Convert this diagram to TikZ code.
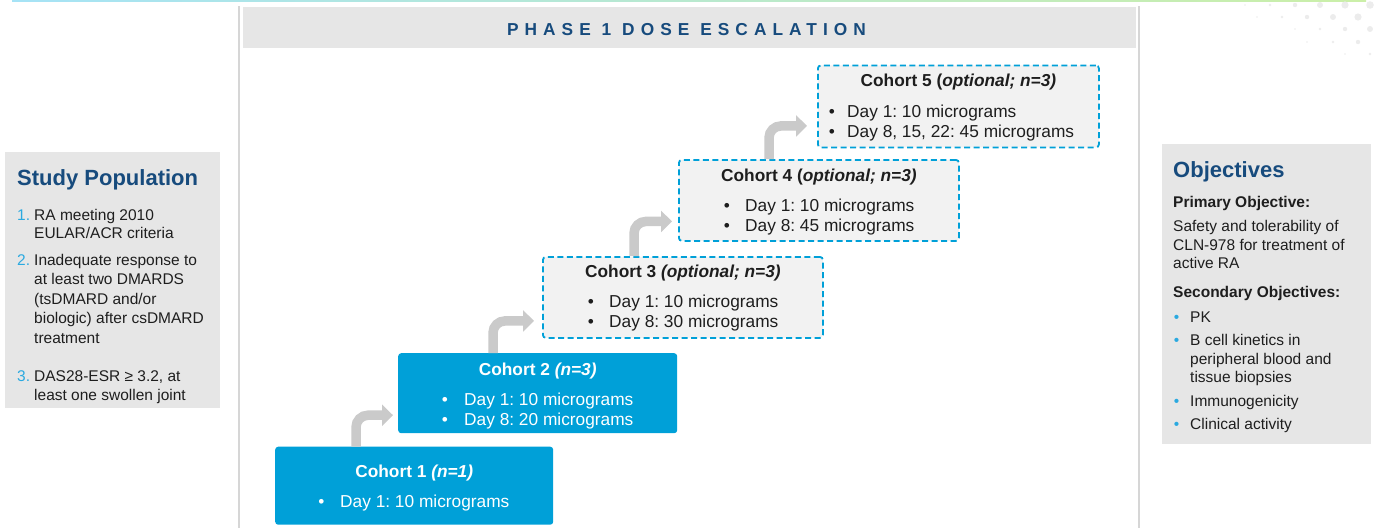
\documentclass[tikz,border=0pt]{standalone}
\usepackage{fontspec}
\setmainfont{Liberation Sans}
\newfontfamily\hdrfont{Liberation Sans}[LetterSpace=35]
\usetikzlibrary{arrows.meta}
\definecolor{cblue}{HTML}{00A0D8}
\definecolor{dblue}{HTML}{174B7D}
\definecolor{nblue}{HTML}{2AA9E0}
\definecolor{panel}{HTML}{E6E6E6}
\definecolor{lightfill}{HTML}{F2F2F2}
\definecolor{agray}{HTML}{CACACA}
\definecolor{vline}{HTML}{D6D6D6}
\definecolor{ink}{HTML}{1E1E1E}
\definecolor{dotc}{HTML}{ECECEC}
\definecolor{topA}{HTML}{A6E3F6}
\definecolor{topB}{HTML}{CBEFA8}
\frenchspacing
\begin{document}
\begin{tikzpicture}[x=1pt,y=-1pt,
  panelbox/.style={fill=panel, draw=none, inner sep=0pt, anchor=north west},
  solidc/.style={fill=cblue, draw=none, rounded corners=3pt, inner sep=0pt, anchor=north west},
  dashc/.style={fill=lightfill, draw=cblue, line width=1.8pt, dash pattern=on 6pt off 3.5pt, rounded corners=3pt, inner sep=0pt, anchor=north west},
  body/.style={anchor=base west, inner sep=0pt, text=ink, font=\fontsize{15.5}{19}\selectfont},
  num/.style={anchor=base west, inner sep=0pt, text=nblue, font=\fontsize{15.5}{19}\selectfont},
  bdot/.style={anchor=base, inner sep=0pt, text=nblue, font=\fontsize{15.5}{19}\selectfont},
  ptitle/.style={anchor=base west, inner sep=0pt, text=dblue, font=\fontsize{22}{24}\selectfont\bfseries},
  subt/.style={anchor=base west, inner sep=0pt, text=ink, font=\fontsize{15.5}{19}\selectfont\bfseries},
  ctitle/.style={anchor=base, inner sep=0pt, font=\fontsize{17.3}{20}\selectfont\bfseries},
  cline/.style={anchor=base west, inner sep=0pt, font=\fontsize{17.3}{20}\selectfont},
  cbul/.style={anchor=base, inner sep=0pt, font=\fontsize{17.3}{20}\selectfont},
  garrow/.style={draw=agray, line width=9.5pt, rounded corners=12pt, -{Triangle[length=11pt,width=21pt]}}
]
\useasboundingbox (0,0) rectangle (1377,528);
% top line and decoration
\shade[left color=topA, right color=topB] (12,0) rectangle (1366,1.6);
\foreach \x/\y/\r in {1245/5/0.8, 1270/5/1.3, 1295/5/2.2, 1320/5/3, 1345/5/3.6, 1370/5/3.8,
  1257/17/0.8, 1282/17/1.3, 1307/17/2.2, 1333/17/3, 1358/17/3.6,
  1295/29/0.8, 1320/29/1.3, 1345/29/2.2, 1370/29/3,
  1307/42/0.8, 1333/42/1.3, 1358/42/2.2,
  1345/54/0.8, 1370/54/1.3}
  \fill[dotc] (\x,\y) circle[radius=\r pt];
% vertical separators
\draw[vline, line width=1.4pt] (239,6) -- (239,528);
\draw[vline, line width=1.4pt] (1139,6) -- (1139,528);
% header
\node[panelbox, minimum width=893pt, minimum height=41pt] (hdr) at (243,7) {};
\node[anchor=base, inner sep=0pt, text=dblue, font=\fontsize{17.3}{20}\hdrfont\bfseries] (hdrt) at (686.5,35.7) {PHASE 1 DOSE ESCALATION};
% study population
\node[panelbox, minimum width=215pt, minimum height=256pt] (sp) at (5,152) {};
\node[ptitle] (spt) at (17,185) {Study Population};
\node[num] (n1) at (17,220) {1.};
\node[num] (n2) at (17,265) {2.};
\node[num] (n3) at (17,381) {3.};
\node[body] (spl1) at (34,220) {RA meeting 2010};
\node[body] (spl2) at (34,238.5) {EULAR/ACR criteria};
\node[body] (spl3) at (34,265) {Inadequate response to};
\node[body] (spl4) at (34,284.5) {at least two DMARDS};
\node[body] (spl5) at (34,304) {(tsDMARD and/or};
\node[body] (spl6) at (34,323.5) {biologic) after csDMARD};
\node[body] (spl7) at (34,343) {treatment};
\node[body] (spl8) at (34,381) {DAS28-ESR ≥ 3.2, at};
\node[body] (spl9) at (34,400.5) {least one swollen joint};
% objectives
\node[panelbox, minimum width=209pt, minimum height=300pt] (ob) at (1162,144) {};
\node[ptitle] (obt) at (1173,177) {Objectives};
\node[subt] (pri) at (1173,207) {Primary Objective:};
\node[body] (pr1) at (1173,231) {Safety and tolerability of};
\node[body] (pr2) at (1173,250) {CLN-978 for treatment of};
\node[body] (pr3) at (1173,268.5) {active RA};
\node[subt] (sec) at (1173,297) {Secondary Objectives:};
\node[body] (sl1) at (1190,322) {PK};
\node[body] (sl2) at (1190,345) {B cell kinetics in};
\node[body] (sl3) at (1190,364) {peripheral blood and};
\node[body] (sl4) at (1190,382.5) {tissue biopsies};
\node[body] (sl5) at (1190,406) {Immunogenicity};
\node[body] (sl6) at (1190,429) {Clinical activity};
\foreach \yy [count=\k] in {322, 345, 406, 429}
  \node[bdot] (sb\k) at (1176.5,\yy) {•};
% cohort boxes
\node[solidc, minimum width=278pt, minimum height=78pt] (c1) at (275,446.5) {};
\node[solidc, minimum width=279pt, minimum height=80pt] (c2) at (398,353) {};
\node[dashc, minimum width=280pt, minimum height=81pt] (c3) at (542,256) {};
\node[dashc, minimum width=280pt, minimum height=81pt] (c4) at (678,159) {};
\node[dashc, minimum width=281pt, minimum height=82pt] (c5) at (817,64.5) {};
% cohort 1
\node[ctitle, text=white] (c1t) at (c1.north |- 0,477) {Cohort 1 \textit{(n=1)}};
\node[cbul, text=white] (c1b1) at (321.5,507) {•};
\node[cline, text=white] (c1l1) at (340,507) {Day 1: 10 micrograms};
% cohort 2
\node[ctitle, text=white] (c2t) at (c2.north |- 0,375) {Cohort 2 \textit{(n=3)}};
\node[cbul, text=white] (c2b1) at (445,405) {•};
\node[cbul, text=white] (c2b2) at (445,425) {•};
\node[cline, text=white] (c2l1) at (464,405) {Day 1: 10 micrograms};
\node[cline, text=white] (c2l2) at (464,425) {Day 8: 20 micrograms};
% cohort 3
\node[ctitle, text=ink] (c3t) at (c3.north |- 0,277) {Cohort 3 \textit{(optional; n=3)}};
\node[cbul, text=ink] (c3b1) at (591,307) {•};
\node[cbul, text=ink] (c3b2) at (591,327.5) {•};
\node[cline, text=ink] (c3l1) at (609,307) {Day 1: 10 micrograms};
\node[cline, text=ink] (c3l2) at (609,327.5) {Day 8: 30 micrograms};
% cohort 4
\node[ctitle, text=ink] (c4t) at (c4.north |- 0,181.5) {Cohort 4 (\textit{optional; n=3)}};
\node[cbul, text=ink] (c4b1) at (727,211.5) {•};
\node[cbul, text=ink] (c4b2) at (727,231.5) {•};
\node[cline, text=ink] (c4l1) at (745,211.5) {Day 1: 10 micrograms};
\node[cline, text=ink] (c4l2) at (745,231.5) {Day 8: 45 micrograms};
% cohort 5
\node[ctitle, text=ink] (c5t) at (c5.north |- 0,86) {Cohort 5 (\textit{optional; n=3)}};
\node[cbul, text=ink] (c5b1) at (832,117) {•};
\node[cbul, text=ink] (c5b2) at (832,137) {•};
\node[cline, text=ink] (c5l1) at (847,117) {Day 1: 10 micrograms};
\node[cline, text=ink] (c5l2) at (847,137) {Day 8, 15, 22: 45 micrograms};
% arrows
\draw[garrow] ([xshift=81pt]c1.north west) |- ([xshift=-5pt,yshift=-22pt]c2.west);
\draw[garrow] ([xshift=95pt]c2.north west) |- ([xshift=-8pt,yshift=-23.5pt]c3.west);
\draw[garrow] ([xshift=92pt]c3.north west) |- ([xshift=-6pt,yshift=-21pt]c4.west);
\draw[garrow] ([xshift=91pt]c4.north west) |- ([xshift=-10pt,yshift=-19.5pt]c5.west);
\end{tikzpicture}
\end{document}
